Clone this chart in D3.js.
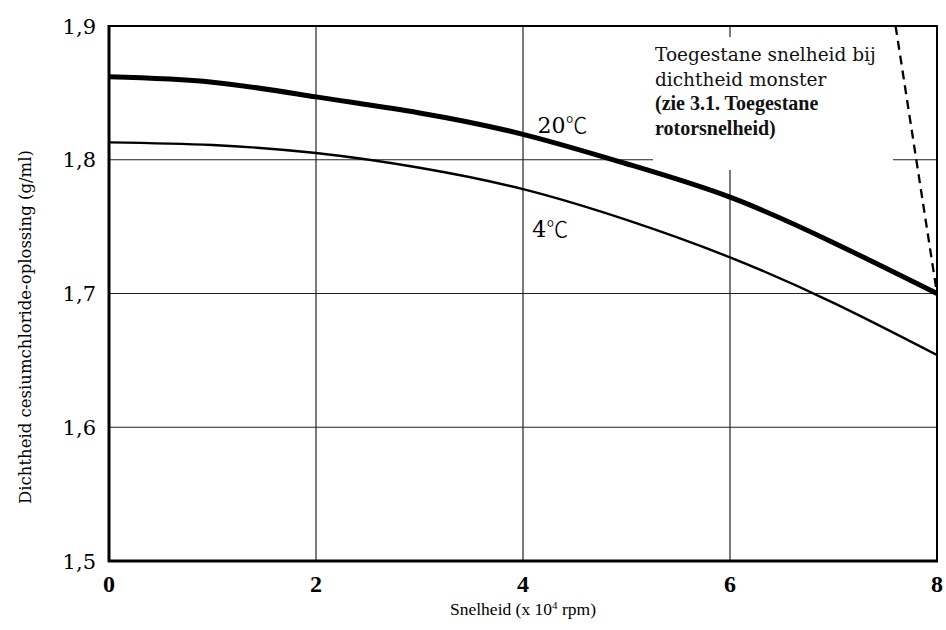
<!DOCTYPE html>
<html><head><meta charset="utf-8">
<script src="https://cdn.jsdelivr.net/npm/d3@7"></script>
<style>body{margin:0;background:#fff}svg{display:block}</style>
</head><body>
<svg id="c" width="946" height="630"></svg>
<script>
const speeds = [0,1,2,3,4,5,6,7,8];
const dens20 = [1.862,1.858,1.847,1.835,1.819,1.797,1.772,1.738,1.700];
const dens4  = [1.813,1.811,1.805,1.794,1.778,1.755,1.727,1.693,1.654];
const limitLine = [[7.6,1.9],[8,1.70]];
const xTicks = [0,2,4,6,8];
const yTicks = [1.5,1.6,1.7,1.8,1.9];
const yTickLabels = ["1,5","1,6","1,7","1,8","1,9"];
const seriesLabels = [{n:"20",s:4.14,v:1.820},{n:"4",s:4.09,v:1.742}];
const noteLines = ["Toegestane snelheid bij","dichtheid monster","(zie 3.1. Toegestane","rotorsnelheid)"];

const svg = d3.select("#c");
const L=109, R=937, T=26, B=561;
const x = d3.scaleLinear().domain([0,8]).range([L,R]);
const y = d3.scaleLinear().domain([1.5,1.9]).range([B,T]);
const serif = "'DejaVu Serif', serif";

// grid
const g = svg.append("g");
g.selectAll(".hg").data(yTicks.filter(v=>v>1.5&&v<1.9)).enter().append("line")
 .attr("x1",L).attr("x2",R).attr("y1",d=>y(d)).attr("y2",d=>y(d))
 .attr("stroke","#222").attr("stroke-width",1.2);
g.selectAll(".vg").data(xTicks.filter(v=>v>0&&v<8)).enter().append("line")
 .attr("y1",T).attr("y2",B).attr("x1",d=>x(d)).attr("x2",d=>x(d))
 .attr("stroke","#222").attr("stroke-width",1.2);

// white box behind annotation
svg.append("rect").attr("x",653).attr("y",37).attr("width",240).attr("height",133).attr("fill","#fff");

// annotation text
const note = svg.append("text").attr("x",655).attr("y",61).attr("fill","#111");
noteLines.forEach((t,i)=>{
  note.append("tspan").attr("x",655).attr("dy",i===0?0:24.5)
   .attr("font-family",i>=2?"'Liberation Serif', serif":serif)
   .attr("font-size",i>=2?20:18.5)
   .attr("font-weight",i>=2?"bold":"normal").text(t);
});

// frame
svg.append("rect").attr("x",L).attr("y",T).attr("width",R-L).attr("height",B-T).attr("fill","none").attr("stroke","#000").attr("stroke-width",2);
svg.append("line").attr("x1",L).attr("x2",L).attr("y1",T-1).attr("y2",B+1).attr("stroke","#000").attr("stroke-width",3);
svg.append("line").attr("x1",L-1).attr("x2",R+1).attr("y1",B).attr("y2",B).attr("stroke","#000").attr("stroke-width",3);

// curves
const line = d3.line().x((d,i)=>x(speeds[i])).y(d=>y(d)).curve(d3.curveNatural);
svg.append("path").attr("d",line(dens20)).attr("fill","none").attr("stroke","#000").attr("stroke-width",5);
svg.append("path").attr("d",line(dens4)).attr("fill","none").attr("stroke","#000").attr("stroke-width",2.4);
svg.append("path").attr("d",d3.line().x(d=>x(d[0])).y(d=>y(d[1]))(limitLine))
 .attr("fill","none").attr("stroke","#000").attr("stroke-width",2.3).attr("stroke-dasharray","9,6");

// series labels
const sl = svg.selectAll(".sl").data(seriesLabels).enter().append("text")
 .attr("x",d=>x(d.s)).attr("y",d=>y(d.v)).attr("font-family",serif).attr("font-size",22).attr("fill","#000");
sl.append("tspan").text(d=>d.n);
sl.append("tspan").attr("font-family","'Noto Sans CJK JP', sans-serif").attr("font-weight","300").text("℃");

// axes labels
svg.selectAll(".yt").data(yTicks).enter().append("text")
 .attr("x",L-13).attr("y",d=>y(d)).attr("dy","0.36em").attr("text-anchor","end")
 .attr("font-family",serif).attr("font-size",21).attr("fill","#000").text((d,i)=>yTickLabels[i]);
svg.selectAll(".xt").data(xTicks).enter().append("text")
 .attr("x",d=>x(d)).attr("y",B+31).attr("text-anchor","middle")
 .attr("font-family","'Liberation Serif', serif").attr("font-weight","bold").attr("font-size",24).attr("fill","#000").text(d=>d);

const xt = svg.append("text").attr("x",(L+R)/2).attr("y",B+54).attr("text-anchor","middle")
 .attr("font-family","'Liberation Serif', serif").attr("font-size",17.5).attr("fill","#000");
xt.append("tspan").text("Snelheid (x 10");
xt.append("tspan").attr("font-size",11).attr("dy",-6).text("4");
xt.append("tspan").attr("dy",6).text(" rpm)");

svg.append("text").attr("transform",`translate(31,327) rotate(-90)`).attr("text-anchor","middle")
 .attr("font-family",serif).attr("font-size",16.5).attr("fill","#000").text("Dichtheid cesiumchloride-oplossing (g/ml)");
</script>
</body></html>
